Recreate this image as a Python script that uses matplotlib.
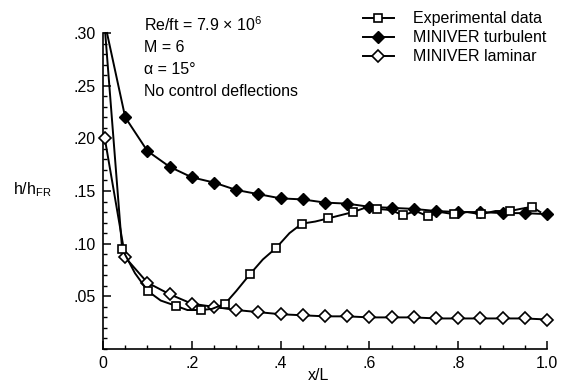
import matplotlib
matplotlib.use("Agg")
import matplotlib.pyplot as plt
from matplotlib.ticker import MultipleLocator, FixedLocator, FixedFormatter

plt.rcParams['font.family'] = ['Liberation Sans', 'DejaVu Sans']
plt.rcParams['mathtext.fontset'] = 'custom'
plt.rcParams['mathtext.rm'] = 'Liberation Sans'
plt.rcParams['mathtext.it'] = 'Liberation Sans:italic'

# experimental data (squares on every other point, first point runs off the top)
exp_x = [0.005, 0.043, 0.072, 0.101, 0.13, 0.164, 0.19, 0.22, 0.245, 0.275,
         0.30, 0.331, 0.36, 0.39, 0.42, 0.448, 0.478, 0.507, 0.535, 0.563,
         0.59, 0.617, 0.647, 0.676, 0.704, 0.732, 0.76, 0.79, 0.82, 0.851,
         0.884, 0.917, 0.94, 0.966, 0.985]
exp_y = [0.30, 0.095, 0.072, 0.055, 0.046, 0.041, 0.037, 0.037, 0.038, 0.043,
         0.055, 0.071, 0.085, 0.096, 0.110, 0.119, 0.121, 0.124, 0.127, 0.130,
         0.134, 0.133, 0.132, 0.127, 0.131, 0.126, 0.130, 0.128, 0.130, 0.128,
         0.131, 0.131, 0.133, 0.135, 0.130]

# MINIVER turbulent (first point is where the curve leaves the top of the plot)
turb_x = [0.009, 0.05, 0.10, 0.15, 0.20, 0.25, 0.30, 0.35, 0.40, 0.45, 0.50,
          0.55, 0.60, 0.65, 0.70, 0.75, 0.80, 0.85, 0.90, 0.95, 1.00]
turb_y = [0.30, 0.220, 0.188, 0.173, 0.163, 0.158, 0.151, 0.147, 0.143, 0.142,
          0.139, 0.138, 0.135, 0.134, 0.133, 0.131, 0.130, 0.130, 0.129, 0.129, 0.128]

# MINIVER laminar
lam_x = [0.004, 0.05, 0.10, 0.15, 0.20, 0.25, 0.30, 0.35, 0.40, 0.45, 0.50,
         0.55, 0.60, 0.65, 0.70, 0.75, 0.80, 0.85, 0.90, 0.95, 1.00]
lam_y = [0.200, 0.087, 0.063, 0.052, 0.043, 0.040, 0.037, 0.035, 0.033, 0.032,
         0.031, 0.031, 0.030, 0.030, 0.030, 0.029, 0.029, 0.029, 0.029, 0.029, 0.028]

x_ticks = [0, 0.2, 0.4, 0.6, 0.8, 1.0]
x_labels = ['0', '.2', '.4', '.6', '.8', '1.0']
y_ticks = [0.05, 0.10, 0.15, 0.20, 0.25, 0.30]
y_labels = ['.05', '.10', '.15', '.20', '.25', '.30']

fig = plt.figure(figsize=(5.61, 3.84), dpi=100)
ax = fig.add_axes([103/561, 1 - 349/384, 444/561, 316/384])

lw = 1.4
ax.plot(turb_x, turb_y, color='black', lw=lw, marker='D', ms=6,
        mfc='black', mec='black', markevery=slice(1, None),
        label='MINIVER turbulent', zorder=3, clip_on=False)
ax.plot(lam_x, lam_y, color='black', lw=lw, marker='D', ms=6,
        mfc='white', mec='black', mew=1.2, label='MINIVER laminar',
        zorder=3, clip_on=False)
ax.plot(exp_x, exp_y, color='black', lw=lw, marker='s', ms=6,
        mfc='white', mec='black', mew=1.2, markevery=slice(1, None, 2),
        label='Experimental data', zorder=4, clip_on=False)

ax.set_xlim(0, 1.0)
ax.set_ylim(0, 0.30)
ax.spines['top'].set_color('none')
ax.spines['right'].set_color('none')
ax.spines['left'].set_linewidth(1.2)
ax.spines['bottom'].set_linewidth(1.2)

ax.xaxis.set_major_locator(FixedLocator(x_ticks))
ax.xaxis.set_major_formatter(FixedFormatter(x_labels))
ax.xaxis.set_minor_locator(MultipleLocator(0.05))
ax.yaxis.set_major_locator(FixedLocator(y_ticks))
ax.yaxis.set_major_formatter(FixedFormatter(y_labels))
ax.yaxis.set_minor_locator(MultipleLocator(0.01))
ax.tick_params(which='major', direction='in', length=6, width=1.1, labelsize=11.5, pad=5)
ax.tick_params(which='minor', direction='in', length=3, width=1.0)

# legend in the top right, above the axes
h, l = ax.get_legend_handles_labels()
order = [2, 0, 1]
fig.legend([h[i] for i in order], [l[i] for i in order], loc='upper left',
           bbox_to_anchor=(352/561, 1 - 0/384), frameon=False, fontsize=11.5,
           handlelength=1.9, handletextpad=1.2, labelspacing=0.25, borderpad=0.2)

# run conditions
fig.text(144/561, 1 - 25/384, r'Re/ft = 7.9 $\times$ 10$^{6}$', fontsize=11.5, va='center')
fig.text(144/561, 1 - 47/384, 'M = 6', fontsize=11.5, va='center')
fig.text(144/561, 1 - 70/384, 'α = 15°', fontsize=11.5, va='center')
fig.text(144/561, 1 - 92/384, 'No control deflections', fontsize=11.5, va='center')

fig.text(13/561, 1 - 190/384, r'h/h$_{\mathrm{FR}}$', fontsize=11.5, va='center')
fig.text(318/561, 1 - 376/384, 'x/L', fontsize=11.5, va='center', ha='center')

fig.savefig('out.png', dpi=100)
